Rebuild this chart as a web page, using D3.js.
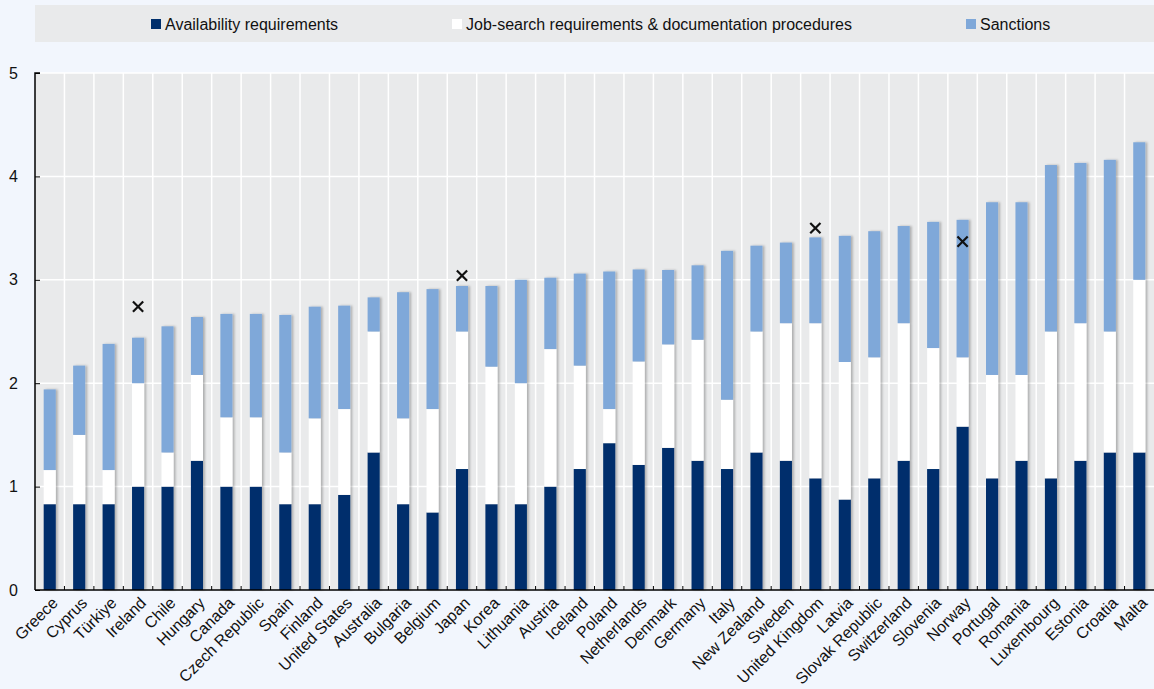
<!DOCTYPE html>
<html>
<head>
<meta charset="utf-8">
<script src="https://cdn.jsdelivr.net/npm/d3@7"></script>
<style>
  body { margin: 0; background: #f2f6fd; }
  svg { display: block; font-family: "Liberation Sans", Arial, sans-serif; }
</style>
</head>
<body>
<div id="canvas"></div>
<script>
const countries = ["Greece", "Cyprus", "Türkiye", "Ireland", "Chile", "Hungary", "Canada", "Czech Republic",
  "Spain", "Finland", "United States", "Australia", "Bulgaria", "Belgium", "Japan", "Korea", "Lithuania",
  "Austria", "Iceland", "Poland", "Netherlands", "Denmark", "Germany", "Italy", "New Zealand", "Sweden",
  "United Kingdom", "Latvia", "Slovak Republic", "Switzerland", "Slovenia", "Norway", "Portugal", "Romania",
  "Luxembourg", "Estonia", "Croatia", "Malta"];

const availability = [0.83, 0.83, 0.83, 1.0, 1.0, 1.25, 1.0, 1.0,
  0.83, 0.83, 0.92, 1.33, 0.83, 0.75, 1.17, 0.83, 0.83,
  1.0, 1.17, 1.42, 1.21, 1.375, 1.25, 1.17, 1.33, 1.25,
  1.08, 0.875, 1.08, 1.25, 1.17, 1.58, 1.08, 1.25,
  1.08, 1.25, 1.33, 1.33];

const jobSearch = [0.33, 0.67, 0.33, 1.0, 0.33, 0.83, 0.67, 0.67,
  0.5, 0.83, 0.83, 1.17, 0.83, 1.0, 1.33, 1.33, 1.17,
  1.33, 1.0, 0.33, 1.0, 1.0, 1.17, 0.67, 1.17, 1.33,
  1.5, 1.33, 1.17, 1.33, 1.17, 0.67, 1.0, 0.83,
  1.42, 1.33, 1.17, 1.67];

const sanctions = [0.78, 0.67, 1.22, 0.44, 1.22, 0.56, 1.0, 1.0,
  1.33, 1.08, 1.0, 0.33, 1.22, 1.16, 0.44, 0.78, 1.0,
  0.69, 0.89, 1.33, 0.89, 0.72, 0.72, 1.44, 0.83, 0.78,
  0.83, 1.22, 1.22, 0.94, 1.22, 1.33, 1.67, 1.67,
  1.61, 1.55, 1.66, 1.33];

// previous index (x markers), only some countries
const previous = [null, null, null, 2.74, null, null, null, null,
  null, null, null, null, null, null, 3.04, null, null,
  null, null, null, null, null, null, null, null, null,
  3.50, null, null, null, null, 3.37, null, null,
  null, null, null, null];

const seriesNames = ["Availability requirements", "Job-search requirements & documentation procedures", "Sanctions"];
const seriesKeys = ["avail", "job", "sanc"];
const colors = ["#002f6c", "#ffffff", "#7fa8d9"];
const yTicks = [0, 1, 2, 3, 4, 5];

const data = countries.map((c, i) => ({
  name: c, avail: availability[i], job: jobSearch[i], sanc: sanctions[i], prev: previous[i]
}));

const width = 1154, height = 689;
const margin = {top: 73, left: 35, bottom: 99, right: 0};
const iwidth = width - margin.left - margin.right;
const iheight = height - margin.top - margin.bottom;

const svg = d3.select("#canvas").append("svg")
  .attr("width", width).attr("height", height);

const defs = svg.append("defs");
const f = defs.append("filter").attr("id", "shadow")
  .attr("x", "-30%").attr("y", "-5%").attr("width", "160%").attr("height", "110%");
f.append("feDropShadow").attr("dx", 2).attr("dy", 0).attr("stdDeviation", 1)
  .attr("flood-color", "#000").attr("flood-opacity", 0.25);

// legend
const leg = svg.append("g");
leg.append("rect").attr("x", 35).attr("y", 5).attr("width", 1119).attr("height", 37).attr("fill", "#e9eaeb");
const legX = [151, 452, 966];
seriesNames.forEach((s, i) => {
  leg.append("rect").attr("x", legX[i]).attr("y", 19).attr("width", 10).attr("height", 10).attr("fill", colors[i]);
  leg.append("text").attr("x", legX[i] + 14).attr("y", 29.5).attr("font-size", 16)
    .attr("fill", "#111").text(s);
});

const g = svg.append("g").attr("transform", `translate(${margin.left},${margin.top})`);

const x = d3.scaleBand().domain(countries).range([0, iwidth]).paddingInner(0).paddingOuter(0);
const y = d3.scaleLinear().domain([0, 5]).range([iheight, 0]);

g.append("rect").attr("width", iwidth).attr("height", iheight).attr("fill", "#e9eaeb");

// grid
g.selectAll(".hgrid").data(yTicks.slice(1)).enter().append("line")
  .attr("x1", 0).attr("x2", iwidth).attr("y1", d => y(d)).attr("y2", d => y(d))
  .attr("stroke", "#fff").attr("stroke-width", 1.5);
g.selectAll(".vgrid").data(countries.slice(1)).enter().append("line")
  .attr("x1", d => x(d)).attr("x2", d => x(d)).attr("y1", 0).attr("y2", iheight)
  .attr("stroke", "#fff").attr("stroke-width", 1.5);

const stack = d3.stack().keys(seriesKeys)(data);
const barW = x.bandwidth() * 0.41;

g.append("g").attr("filter", "url(#shadow)").selectAll("g").data(stack).enter().append("g")
  .attr("fill", (d, i) => colors[i])
  .selectAll("rect").data(d => d).enter().append("rect")
  .attr("x", d => x(d.data.name) + (x.bandwidth() - barW) / 2)
  .attr("y", d => y(d[1]))
  .attr("height", d => y(d[0]) - y(d[1]))
  .attr("width", barW);

// markers
const sym = d3.symbol().type(d3.symbolX).size(70);
g.selectAll(".mark").data(data.filter(d => d.prev != null)).enter().append("path")
  .attr("d", sym)
  .attr("transform", d => `translate(${x(d.name) + x.bandwidth() / 2},${y(d.prev)})`)
  .attr("fill", "none").attr("stroke", "#111").attr("stroke-width", 2.2);

// y axis
const yAxis = g.append("g").call(d3.axisLeft(y).tickValues(yTicks).tickFormat(d3.format("d")).tickSize(-5).tickPadding(17));
yAxis.select(".domain").attr("d", `M5,0H0V${iheight}`).attr("stroke-width", 1.5);
yAxis.selectAll("text").attr("font-size", 16).attr("fill", "#111").attr("font-family", "Liberation Sans, Arial, sans-serif");
yAxis.selectAll(".tick line").attr("stroke", "#000");

// x axis
const xb = g.append("g").attr("transform", `translate(0,${iheight})`);
xb.append("line").attr("x1", 0).attr("x2", iwidth).attr("stroke", "#000").attr("stroke-width", 1.5);
xb.selectAll(".tk").data(countries.slice(1)).enter().append("line")
  .attr("x1", d => x(d)).attr("x2", d => x(d)).attr("y1", 0).attr("y2", -4)
  .attr("stroke", "#000").attr("stroke-width", 1);
xb.selectAll(".lbl").data(countries).enter().append("text")
  .attr("transform", d => `translate(${x(d) + x.bandwidth() / 2 + 9},${14}) rotate(-45)`)
  .attr("text-anchor", "end")
  .attr("font-size", 16).attr("fill", "#111")
  .text(d => d);
</script>
</body>
</html>
